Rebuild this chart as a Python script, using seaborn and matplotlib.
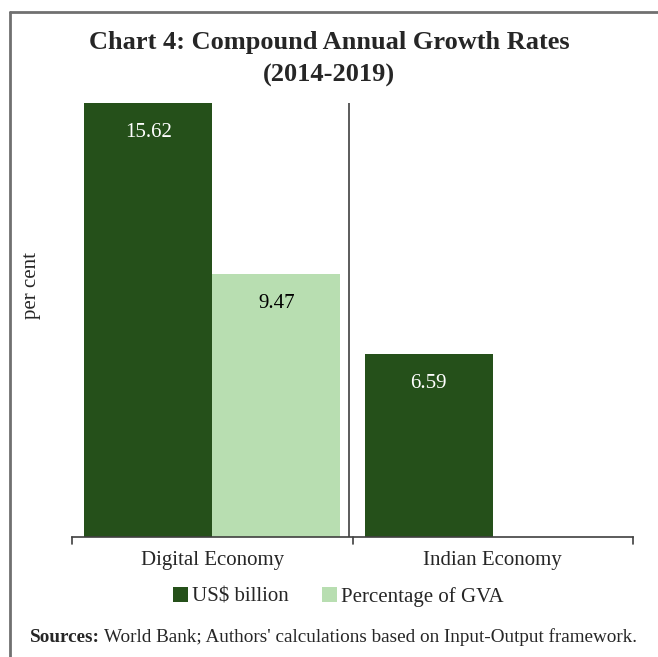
import pandas as pd
import numpy as np
import matplotlib
matplotlib.use('Agg')
import matplotlib.pyplot as plt
import seaborn as sns
from matplotlib.lines import Line2D

# data
categories = ['Digital Economy', 'Indian Economy']
series = ['US$ billion', 'Percentage of GVA']
usd_billion = [15.62, 6.59]
pct_gva = [9.47, np.nan]

colors = ['#25501A', '#B8DEB1']
label_colors = ['white', 'black']

df = pd.DataFrame({
    'category': categories * 2,
    'series': [series[0]] * 2 + [series[1]] * 2,
    'value': usd_billion + pct_gva,
})

sns.set_style('white')
plt.rcParams['font.family'] = ['Liberation Serif', 'DejaVu Serif']

fig = plt.figure(figsize=(6.58, 6.57), dpi=100)
ax = fig.add_axes([72 / 658, 1 - 537 / 657, 561 / 658, 434 / 657])

sns.barplot(data=df, x='category', y='value', hue='series', order=categories,
            hue_order=series, palette=colors, width=0.913, saturation=1,
            errorbar=None, ax=ax, legend=True, linewidth=0)

ax.set_ylim(0, 15.62)
ax.set_xlim(-0.5, 1.5)
ax.set_xlabel('')
ax.set_ylabel('per cent', fontsize=15)
ax.yaxis.set_label_coords(-0.055, 0.58)
ax.set_yticks([])
for s in ['left', 'right', 'top']:
    ax.spines[s].set_visible(False)
ax.spines['bottom'].set_color('#404040')
ax.spines['bottom'].set_linewidth(1.2)
ax.set_xticks([0, 1])
ax.set_xticklabels(categories, fontsize=15)
ax.tick_params(axis='x', length=0, pad=10)
# category boundary ticks
for xt in [-0.5, 0.5, 1.5]:
    ax.plot([xt, xt], [0, -0.26], color='#404040', lw=1.2, clip_on=False)
ax.axvline(0.488, color='#404040', lw=1.2)

# value labels inside bars
for cont, lc in zip(ax.containers, label_colors):
    for p in cont.patches:
        h = p.get_height()
        if np.isnan(h) or h == 0:
            continue
        ax.text(p.get_x() + p.get_width() / 2, h - 1.05, f'{h:.2f}',
                ha='center', va='center', color=lc, fontsize=15)

# legend
handles, labels = ax.get_legend_handles_labels()
ax.legend_.remove()
fig.legend(handles, labels, loc='center', bbox_to_anchor=(0.514, 1 - 597 / 657),
           ncol=2, frameon=False, fontsize=15, handlelength=0.7, handleheight=0.7,
           handletextpad=0.2, columnspacing=1.6)

# title
fig.text(0.5, 1 - 43 / 657, 'Chart 4: Compound Annual Growth Rates',
         ha='center', va='center', fontsize=19, fontweight='bold')
fig.text(0.5, 1 - 75 / 657, '(2014-2019)',
         ha='center', va='center', fontsize=19, fontweight='bold')

# sources line
t1 = fig.text(30 / 658, 1 - 637 / 657, 'Sources:', ha='left', va='center',
              fontsize=13.8, fontweight='bold')
fig.canvas.draw()
bb = t1.get_window_extent()
fig.text((bb.x1 + 4) / 658, 1 - 637 / 657,
         "World Bank; Authors' calculations based on Input-Output framework.",
         ha='left', va='center', fontsize=13.8)

# frame (left and top borders)
fig.add_artist(Line2D([10 / 658, 10 / 658], [0, 1 - 12 / 657], color='#707070', lw=2,
                      transform=fig.transFigure))
fig.add_artist(Line2D([10 / 658, 1], [1 - 12 / 657, 1 - 12 / 657], color='#707070', lw=2,
                      transform=fig.transFigure))

fig.savefig('out.png', dpi=100)
